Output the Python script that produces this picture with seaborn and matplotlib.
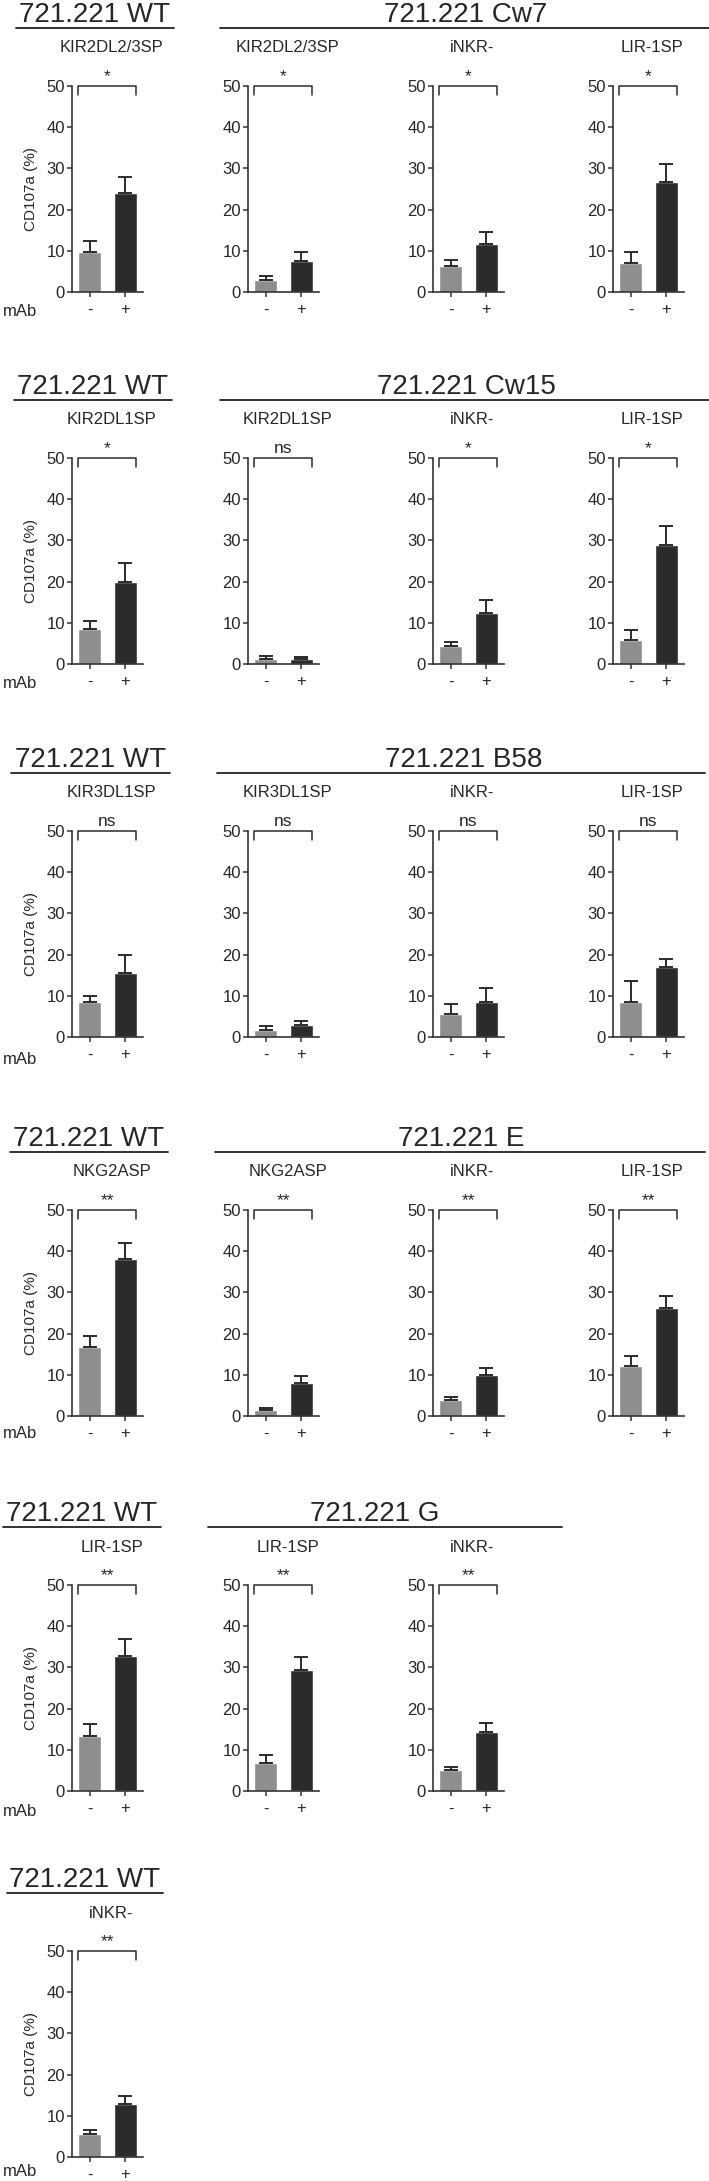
"""Degranulation (CD107a) bar panels: 721.221 WT vs HLA transfectants."""

import matplotlib

matplotlib.use("Agg")

import pandas as pd
import seaborn as sns
from matplotlib import pyplot as plt
from matplotlib.lines import Line2D

# ---- data -----------------------------------------------------------------
conditions = ["-", "+"]

group_titles = ["721.221 Cw7", "721.221 Cw15", "721.221 B58", "721.221 E", "721.221 G", None]

panel_labels = [
    ["KIR2DL2/3SP", "KIR2DL2/3SP", "iNKR-", "LIR-1SP"],
    ["KIR2DL1SP", "KIR2DL1SP", "iNKR-", "LIR-1SP"],
    ["KIR3DL1SP", "KIR3DL1SP", "iNKR-", "LIR-1SP"],
    ["NKG2ASP", "NKG2ASP", "iNKR-", "LIR-1SP"],
    ["LIR-1SP", "LIR-1SP", "iNKR-"],
    ["iNKR-"],
]

no_mab_mean = [
    [9.6, 2.9, 6.2, 7.1],
    [8.4, 1.1, 4.4, 5.9],
    [8.6, 1.8, 5.5, 8.5],
    [16.7, 1.5, 3.9, 12.2],
    [13.3, 6.7, 5.1],
    [5.7],
]
no_mab_sem = [
    [2.8, 0.9, 1.5, 2.5],
    [2.1, 0.8, 1.0, 2.4],
    [1.4, 0.8, 2.5, 5.0],
    [2.6, 0.5, 0.8, 2.4],
    [3.0, 2.1, 0.8],
    [0.9],
]
mab_mean = [
    [24.0, 7.6, 11.6, 26.7],
    [20.0, 1.1, 12.4, 28.8],
    [15.5, 2.8, 8.6, 16.9],
    [38.0, 8.0, 9.9, 26.2],
    [32.8, 29.4, 14.3],
    [12.8],
]
mab_sem = [
    [3.9, 2.1, 2.9, 4.3],
    [4.5, 0.6, 3.1, 4.8],
    [4.5, 1.1, 3.2, 2.0],
    [4.1, 1.6, 1.7, 2.9],
    [4.0, 3.1, 2.3],
    [1.9],
]
significance = [
    ["*", "*", "*", "*"],
    ["*", "ns", "*", "*"],
    ["ns", "ns", "ns", "ns"],
    ["**", "**", "**", "**"],
    ["**", "**", "**"],
    ["**"],
]

# ---- layout (pixels) ------------------------------------------------------
W, H = 709, 2181
GRAY = "#8e8e8e"
DARK = "#2b2b2b"

row_base = [292, 664, 1037, 1416, 1791, 2157]
col_left = [72, 248, 433, 613]
ax_w, ax_h = 71, 206
wt_line = [(16, 174), (14, 172), (11, 170), (10, 168), (3, 161), (7, 163)]
grp_line = [(220, 709), (220, 709), (217, 705), (215, 705), (208, 562), None]
grp_center = [466, 466, 464, 461, 375, None]
mab_offset = [19, 19, 22, 17, 20, 14]

sns.set_style("ticks")
plt.rcParams["font.family"] = ["Liberation Sans", "DejaVu Sans"]


def fx(x):
    return x / W


def fy(y):
    return 1 - y / H


fig = plt.figure(figsize=(W / 100, H / 100), dpi=100)

for r, base in enumerate(row_base):
    # group headers
    x0, x1 = wt_line[r]
    fig.text(fx((x0 + x1) / 2), fy(base - 270), "721.221 WT", fontsize=20,
             ha="center", va="baseline")
    fig.add_artist(Line2D([fx(x0), fx(x1)], [fy(base - 264)] * 2,
                          color="#222222", lw=1.3))
    if group_titles[r] is not None:
        g0, g1 = grp_line[r]
        fig.text(fx(grp_center[r]), fy(base - 270), group_titles[r], fontsize=20,
                 ha="center", va="baseline")
        fig.add_artist(Line2D([fx(g0), fx(g1)], [fy(base - 264)] * 2,
                              color="#222222", lw=1.3))

    fig.text(fx(3), fy(base + mab_offset[r]), "mAb", fontsize=12,
             ha="left", va="center")

    for c, label in enumerate(panel_labels[r]):
        ax = fig.add_axes([fx(col_left[c]), fy(base), ax_w / W, ax_h / H])
        means = [no_mab_mean[r][c], mab_mean[r][c]]
        sems = [no_mab_sem[r][c], mab_sem[r][c]]
        df = pd.DataFrame({"mAb": conditions, "CD107a": means})
        sns.barplot(data=df, x="mAb", y="CD107a", hue="mAb", palette=[GRAY, DARK],
                    width=0.66, errorbar=None, legend=False, saturation=1, ax=ax)
        ax.errorbar([0, 1], means, yerr=[[0, 0], sems], fmt="none", ecolor=DARK,
                    elinewidth=1.4, capsize=5, capthick=1.4, zorder=3)

        ax.set_xlim(-0.5, 1.5)
        ax.set_ylim(0, 50)
        ax.set_yticks(range(0, 51, 10))
        sns.despine(ax=ax)
        for side in ("left", "bottom"):
            ax.spines[side].set_linewidth(1.2)
            ax.spines[side].set_color("#333333")
        ax.tick_params(axis="both", length=3.5, width=1.1, color="#333333",
                       labelsize=12, pad=1.5)
        ax.tick_params(axis="x", pad=4)
        ax.set_xlabel("")
        if c == 0:
            ax.set_ylabel("CD107a (%)", fontsize=11, labelpad=6)
        else:
            ax.set_ylabel("")

        # significance bracket
        ax.plot([-0.33, -0.33, 1.3, 1.3], [47.8, 50, 50, 47.8], color=DARK,
                lw=1.1, clip_on=False)
        ax.text(0.5, 50.4, significance[r][c], ha="center", va="bottom",
                fontsize=12.5)

        fig.text(fx(col_left[c] + ax_w / 2 + 4), fy(base - 244), label,
                 fontsize=12, ha="center", va="center")

fig.savefig("out.png", dpi=100)
